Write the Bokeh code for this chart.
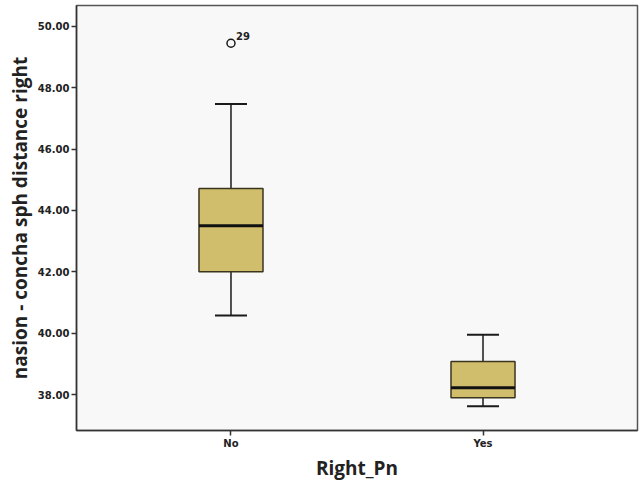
from bokeh.plotting import figure
from bokeh.models import FactorRange, Range1d, ColumnDataSource, FixedTicker
from bokeh.core.properties import value
from bokeh.embed import file_html
from bokeh.resources import INLINE

categories = ["No", "Yes"]
lower_whisker = [40.58, 37.62]
q1 = [42.0, 37.9]
median = [43.5, 38.22]
q3 = [44.72, 39.08]
upper_whisker = [47.47, 39.95]
outlier_cat = ["No"]
outlier_val = [49.45]
outlier_label = ["29"]
y_ticks = [38, 40, 42, 44, 46, 48, 50]

src = ColumnDataSource(dict(cat=categories, lo=lower_whisker, q1=q1, med=median,
                            q3=q3, hi=upper_whisker))

p = figure(width=640, height=483, output_backend="svg", toolbar_location=None,
           x_range=FactorRange(*categories, range_padding=0.113, range_padding_units="absolute"),
           y_range=Range1d(36.83, 50.68),
           min_border_left=76, min_border_right=3, min_border_top=5, min_border_bottom=52)

p.background_fill_color = "#F8F8F8"
p.border_fill_color = "white"
p.outline_line_color = "#555555"
p.outline_line_width = 1.5
p.grid.visible = False

# whisker stems
p.segment(x0="cat", y0="hi", x1="cat", y1="q3", source=src, line_color="#1a1a1a", line_width=1.5)
p.segment(x0="cat", y0="lo", x1="cat", y1="q1", source=src, line_color="#1a1a1a", line_width=1.5)
# caps
p.rect(x="cat", y="hi", width=0.127, height=2, height_units="screen", source=src,
       fill_color="#1a1a1a", line_color=None)
p.rect(x="cat", y="lo", width=0.127, height=2, height_units="screen", source=src,
       fill_color="#1a1a1a", line_color=None)
# boxes
p.vbar(x="cat", width=0.254, bottom="q1", top="q3", source=src,
       fill_color="#D0BE6C", line_color="#3a3520", line_width=1.5)
# median
p.rect(x="cat", y="med", width=0.254, height=3, height_units="screen", source=src,
       fill_color="#111111", line_color=None)
# outlier
p.scatter(x=outlier_cat, y=outlier_val, marker="circle", size=8, fill_color="#F8F8F8",
          line_color="#1a1a1a", line_width=1.5)
p.text(x=outlier_cat, y=outlier_val, text=outlier_label, x_offset=5, y_offset=-3,
       text_font=value("DejaVu Sans"), text_font_style="bold", text_font_size="10px",
       text_color="#222222", text_baseline="bottom", text_align="left")

for ax in (p.xaxis[0], p.yaxis[0]):
    ax.axis_line_color = "#333333"
    ax.axis_line_width = 1.5
    ax.major_tick_line_color = "#333333"
    ax.major_tick_line_width = 1.5
    ax.major_tick_out = 5
    ax.major_tick_in = 0
    ax.minor_tick_line_color = None
    ax.major_label_text_font = "DejaVu Sans"
    ax.major_label_text_font_style = "bold"
    ax.major_label_text_font_size = "10px"
    ax.major_label_text_color = "#222222"
    ax.axis_label_text_font = "Open Sans"
    ax.axis_label_text_font_style = "bold"
    ax.axis_label_text_font_size = "19px"
    ax.axis_label_text_color = "#222222"

p.yaxis.ticker = FixedTicker(ticks=y_ticks)
p.yaxis.major_label_overrides = {t: f"{t:.2f}" for t in y_ticks}
p.yaxis.axis_label = "nasion - concha sph distance right"
p.yaxis.major_label_standoff = 2
p.yaxis.axis_label_standoff = 2
p.xaxis.axis_label = "Right_Pn"
p.xaxis.major_label_standoff = 2
p.xaxis.axis_label_standoff = 3

open("out.html", "w").write(file_html(p, INLINE))
